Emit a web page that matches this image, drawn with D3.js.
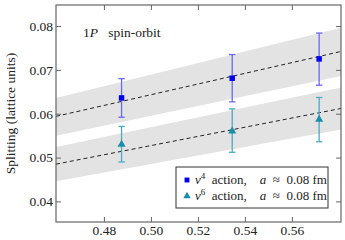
<!DOCTYPE html>
<html>
<head>
<meta charset="utf-8">
<script src="https://cdn.jsdelivr.net/npm/d3@7"></script>
<style>
  body { margin: 0; background: #fff; }
  text { font-family: "Liberation Serif", "DejaVu Serif", serif; fill: #222; }
</style>
</head>
<body>
<svg id="chart"></svg>
<script>
// x values and the two data series
const xVals = [0.4875, 0.5346, 0.5716];
const v4Vals = [0.0636, 0.0681, 0.0725];
const v4Lo = [0.0592, 0.0627, 0.0665];
const v4Hi = [0.0680, 0.0735, 0.0784];
const v6Vals = [0.0530, 0.0560, 0.0587];
const v6Lo = [0.0490, 0.0512, 0.0536];
const v6Hi = [0.0571, 0.0611, 0.0637];

// linear fits with error bands (values at the ends of the x range)
const fitX = [0.4596, 0.5809];
const v4Fit = [0.0594, 0.0742];
const v4BandLo = [0.0550, 0.0686];
const v4BandHi = [0.0636, 0.0796];
const v6Fit = [0.0485, 0.0612];
const v6BandLo = [0.0446, 0.0564];
const v6BandHi = [0.0524, 0.0660];

const xTicks = [0.48, 0.50, 0.52, 0.54, 0.56];
const yTicks = [0.04, 0.05, 0.06, 0.07, 0.08];

const W = 345, H = 240;
const margin = { top: 5, right: 4, bottom: 18, left: 56 };
const serif = '"Liberation Serif", "DejaVu Serif", serif';

const svg = d3.select('#chart').attr('width', W).attr('height', H);

const x = d3.scaleLinear().domain([0.4596, 0.5809]).range([margin.left, W - margin.right]);
const y = d3.scaleLinear().domain([0.0353, 0.0848]).range([H - margin.bottom, margin.top]);

svg.append('clipPath').attr('id', 'clip')
  .append('rect')
  .attr('x', x.range()[0]).attr('y', y.range()[1])
  .attr('width', x.range()[1] - x.range()[0])
  .attr('height', y.range()[0] - y.range()[1]);

const inner = svg.append('g').attr('clip-path', 'url(#clip)');

// bands
function band(lo, hi) {
  const pts = fitX.map((xv, i) => ({ x: xv, lo: lo[i], hi: hi[i] }));
  return d3.area().x(d => x(d.x)).y0(d => y(d.lo)).y1(d => y(d.hi))(pts);
}
inner.append('path').attr('d', band(v4BandLo, v4BandHi)).attr('fill', '#e3e3e3');
inner.append('path').attr('d', band(v6BandLo, v6BandHi)).attr('fill', '#e3e3e3');

// fit lines
const line = d3.line().x(d => x(d[0])).y(d => y(d[1]));
[v4Fit, v6Fit].forEach(f => {
  inner.append('path')
    .attr('d', line(fitX.map((xv, i) => [xv, f[i]])))
    .attr('fill', 'none')
    .attr('stroke', '#222')
    .attr('stroke-width', 1)
    .attr('stroke-dasharray', '4,3');
});

// error bars + markers
function series(vals, lo, hi, barColor, markColor, shape) {
  const g = inner.append('g');
  xVals.forEach((xv, i) => {
    const cx = x(xv);
    g.append('line').attr('x1', cx).attr('x2', cx).attr('y1', y(lo[i])).attr('y2', y(hi[i]))
      .attr('stroke', barColor).attr('stroke-width', 1.3);
    [lo[i], hi[i]].forEach(v => {
      g.append('line').attr('x1', cx - 3.2).attr('x2', cx + 3.2).attr('y1', y(v)).attr('y2', y(v))
        .attr('stroke', barColor).attr('stroke-width', 1.3);
    });
    g.append('path')
      .attr('d', d3.symbol().type(shape).size(shape === d3.symbolSquare ? 30 : 28)())
      .attr('transform', `translate(${cx},${y(vals[i])})`)
      .attr('fill', markColor);
  });
}
series(v4Vals, v4Lo, v4Hi, '#6a6af0', '#0000ee', d3.symbolSquare);
series(v6Vals, v6Lo, v6Hi, '#4fa9c4', '#1b8daa', d3.symbolTriangle);

// axes, ticks inward on all sides
const axisColor = '#666';
const gB = svg.append('g').attr('transform', `translate(0,${y.range()[0]})`)
  .call(d3.axisBottom(x).tickValues(xTicks).tickSize(-5).tickPadding(3).tickFormat(d3.format('.2f')));
const gT = svg.append('g').attr('transform', `translate(0,${y.range()[1]})`)
  .call(d3.axisTop(x).tickValues(xTicks).tickSize(-5).tickFormat(''));
const gL = svg.append('g').attr('transform', `translate(${x.range()[0]},0)`)
  .call(d3.axisLeft(y).tickValues(yTicks).tickSize(-5).tickPadding(3).tickFormat(d3.format('.2f')));
const gR = svg.append('g').attr('transform', `translate(${x.range()[1]},0)`)
  .call(d3.axisRight(y).tickValues(yTicks).tickSize(-5).tickFormat(''));
[gB, gT, gL, gR].forEach(g => {
  g.attr('font-family', serif);
  g.select('.domain').remove();
  g.selectAll('.tick line').attr('stroke', axisColor).attr('stroke-width', 1);
  g.selectAll('.tick text').style('font-family', serif)
    .style('font-size', '13.5px').attr('fill', '#333');
});

svg.append('rect')
  .attr('x', x.range()[0]).attr('y', y.range()[1])
  .attr('width', x.range()[1] - x.range()[0])
  .attr('height', y.range()[0] - y.range()[1])
  .attr('fill', 'none').attr('stroke', axisColor).attr('stroke-width', 1.2);

// y label
svg.append('text')
  .attr('transform', `translate(14.5,${(y.range()[0] + y.range()[1]) / 2}) rotate(-90)`)
  .attr('text-anchor', 'middle')
  .style('font-size', '13.5px')
  .attr('fill', '#333')
  .text('Splitting (lattice units)');

// title
const t = svg.append('text').attr('x', 83).attr('y', 37).style('font-size', '13.5px').attr('fill', '#333');
t.append('tspan').text('1');
t.append('tspan').style('font-style', 'italic').text('P');
t.append('tspan').text('\u00a0\u00a0 spin-orbit');

// legend
const lg = svg.append('g');
lg.append('rect').attr('x', 176).attr('y', 167).attr('width', 152).attr('height', 41)
  .attr('fill', '#fff').attr('stroke', '#333').attr('stroke-width', 1);
const legendItems = [
  { sup: '4', color: '#0000ee', shape: d3.symbolSquare },
  { sup: '6', color: '#1b8daa', shape: d3.symbolTriangle }
];
legendItems.forEach((it, i) => {
  const yy = 180 + i * 16;
  lg.append('path').attr('d', d3.symbol().type(it.shape).size(24)())
    .attr('transform', `translate(187,${yy})`).attr('fill', it.color);
  const tx = lg.append('text').attr('x', 195).attr('y', yy + 4).style('font-size', '13px').attr('fill', '#222');
  tx.append('tspan').style('font-style', 'italic').text('v');
  tx.append('tspan').attr('dy', -5).style('font-size', '9px').text(it.sup);
  tx.append('tspan').attr('dy', 5).text('\u00a0 action,\u00a0\u00a0\u00a0 ');
  tx.append('tspan').style('font-style', 'italic').text('a');
  tx.append('tspan').text('\u00a0 \u2248\u00a0 0.08 fm');
});
</script>
</body>
</html>
